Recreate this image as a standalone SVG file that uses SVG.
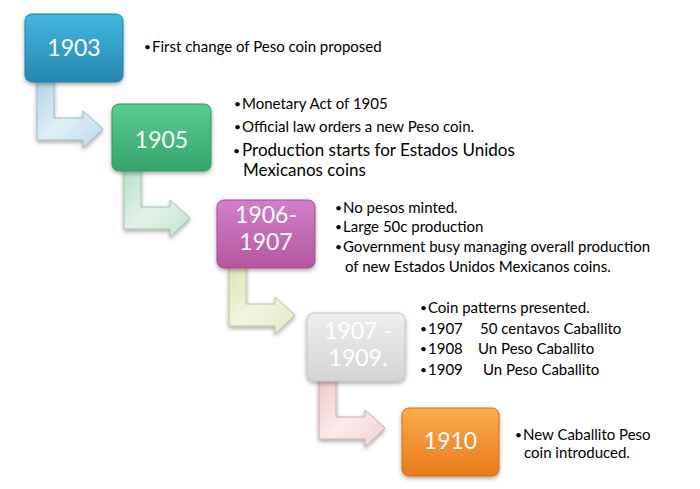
<svg xmlns="http://www.w3.org/2000/svg" width="700" height="489" viewBox="0 0 700 489">
<style>
.lbl{font-family:Lato,"Liberation Sans",sans-serif;font-size:23px;fill:#fff;text-anchor:middle}
.txt{font-family:Lato,"Liberation Sans",sans-serif;font-size:15px;fill:#000}
.big{font-size:17px}
.bul{font-family:Lato,"Liberation Sans",sans-serif;font-size:12px;fill:#000}
.box{filter:url(#sh);stroke-width:1}
.arr{filter:url(#sh);stroke-width:1}
</style>
<defs>
<filter id="sh" x="-20%" y="-20%" width="140%" height="150%">
<feDropShadow dx="0" dy="2" stdDeviation="2" flood-color="#000" flood-opacity="0.35"/>
</filter>
<linearGradient id="gB" x1="0" y1="0" x2="0" y2="1"><stop offset="0" stop-color="#41b7df"/><stop offset="1" stop-color="#2588b0"/></linearGradient>
<linearGradient id="gG" x1="0" y1="0" x2="0" y2="1"><stop offset="0" stop-color="#5acb90"/><stop offset="1" stop-color="#35a56d"/></linearGradient>
<linearGradient id="gP" x1="0" y1="0" x2="0" y2="1"><stop offset="0" stop-color="#d27fc9"/><stop offset="1" stop-color="#b5579f"/></linearGradient>
<linearGradient id="gW" x1="0" y1="0" x2="0" y2="1"><stop offset="0" stop-color="#eeeeee"/><stop offset="1" stop-color="#d4d4d4"/></linearGradient>
<linearGradient id="gO" x1="0" y1="0" x2="0" y2="1"><stop offset="0" stop-color="#fbad4e"/><stop offset="1" stop-color="#e9791a"/></linearGradient>
<linearGradient id="a1" x1="0" y1="0" x2="1" y2="1"><stop offset="0" stop-color="#b0d3e4"/><stop offset="0.5" stop-color="#e0eff6"/><stop offset="1" stop-color="#bcdaea"/></linearGradient>
<linearGradient id="a2" x1="0" y1="0" x2="1" y2="1"><stop offset="0" stop-color="#b8dfc7"/><stop offset="0.5" stop-color="#e2f2e8"/><stop offset="1" stop-color="#c3e5d0"/></linearGradient>
<linearGradient id="a3" x1="0" y1="0" x2="1" y2="1"><stop offset="0" stop-color="#d9e4b6"/><stop offset="0.5" stop-color="#f1f6e0"/><stop offset="1" stop-color="#e1eac1"/></linearGradient>
<linearGradient id="a4" x1="0" y1="0" x2="1" y2="1"><stop offset="0" stop-color="#eec8c8"/><stop offset="0.5" stop-color="#fbebeb"/><stop offset="1" stop-color="#f1d2d2"/></linearGradient>
</defs>
<rect width="700" height="489" fill="#fff"/>
<g id="connectors">
<path class="arr" fill="url(#a1)" stroke="#98b8c8" d="M37,78 L54,78 L54,118 L83,118 L83,111 L103,129 L83,148 L83,140 L37,140 Z"/>
<path class="arr" fill="url(#a2)" stroke="#9fc3ac" d="M124,167 L141,167 L141,207 L170,207 L170,200 L190,218 L170,237 L170,229 L124,229 Z"/>
<path class="arr" fill="url(#a3)" stroke="#bcc69a" d="M229,264 L246,264 L246,304 L275,304 L275,297 L295,315 L275,334 L275,326 L229,326 Z"/>
<path class="arr" fill="url(#a4)" stroke="#d0aaaa" d="M319,377 L336,377 L336,417 L365,417 L365,410 L385,428 L365,447 L365,439 L319,439 Z"/>
</g>
<g id="n1903">
<rect class="box" x="25" y="14" width="98" height="68" rx="7" fill="url(#gB)" stroke="#1f7ea5"/>
<text class="lbl" x="74" y="56">1903</text>
<text class="bul" x="144" y="51">•</text>
<text class="txt" x="152" y="52">First change of Peso coin proposed</text>
</g>
<g id="n1905">
<rect class="box" x="112" y="104" width="99" height="67" rx="7" fill="url(#gG)" stroke="#2e9660"/>
<text class="lbl" x="161.5" y="148">1905</text>
<text class="bul" x="234" y="108">•</text>
<text class="txt" x="242" y="109">Monetary Act of 1905</text>
<text class="bul" x="234" y="131">•</text>
<text class="txt" x="242" y="132">Official law orders a new Peso coin.</text>
<text class="bul" x="233" y="155">•</text>
<text class="txt big"><tspan x="242" y="156">Production starts for Estados Unidos</tspan><tspan x="243" y="176">Mexicanos coins</tspan></text>
</g>
<g id="n1906">
<rect class="box" x="217" y="200" width="98" height="68" rx="7" fill="url(#gP)" stroke="#a14c8f"/>
<text class="lbl"><tspan x="266" y="223">1906-</tspan><tspan x="266" y="250">1907</tspan></text>
<text class="bul" x="335" y="212">•</text>
<text class="txt" x="343" y="213">No pesos minted.</text>
<text class="bul" x="335" y="231">•</text>
<text class="txt" x="343" y="232">Large 50c production</text>
<text class="bul" x="335" y="251">•</text>
<text class="txt"><tspan x="343" y="252">Government busy managing overall production</tspan><tspan x="345" y="272">of new Estados Unidos Mexicanos coins.</tspan></text>
</g>
<g id="n1907">
<rect class="box" x="307" y="313" width="98" height="68" rx="7" fill="url(#gW)" stroke="#c4c4c4"/>
<text class="lbl"><tspan x="358" y="339">1907 -</tspan><tspan x="358" y="366">1909.</tspan></text>
<text class="bul" x="420" y="312">•</text>
<text class="txt" x="428" y="313">Coin patterns presented.</text>
<text class="bul" x="420" y="333">•</text>
<text class="txt"><tspan x="428" y="334">1907</tspan><tspan x="480" y="334">50 centavos Caballito</tspan></text>
<text class="bul" x="420" y="353">•</text>
<text class="txt"><tspan x="428" y="354">1908</tspan><tspan x="478" y="354">Un Peso Caballito</tspan></text>
<text class="bul" x="420" y="374">•</text>
<text class="txt"><tspan x="428" y="375">1909</tspan><tspan x="483" y="375">Un Peso Caballito</tspan></text>
</g>
<g id="n1910">
<rect class="box" x="402" y="408" width="97" height="68" rx="7" fill="url(#gO)" stroke="#d46e12"/>
<text class="lbl" x="450.5" y="449">1910</text>
<text class="bul" x="515" y="439">•</text>
<text class="txt"><tspan x="523" y="440">New Caballito Peso</tspan><tspan x="524" y="458">coin introduced.</tspan></text>
</g>
</svg>
